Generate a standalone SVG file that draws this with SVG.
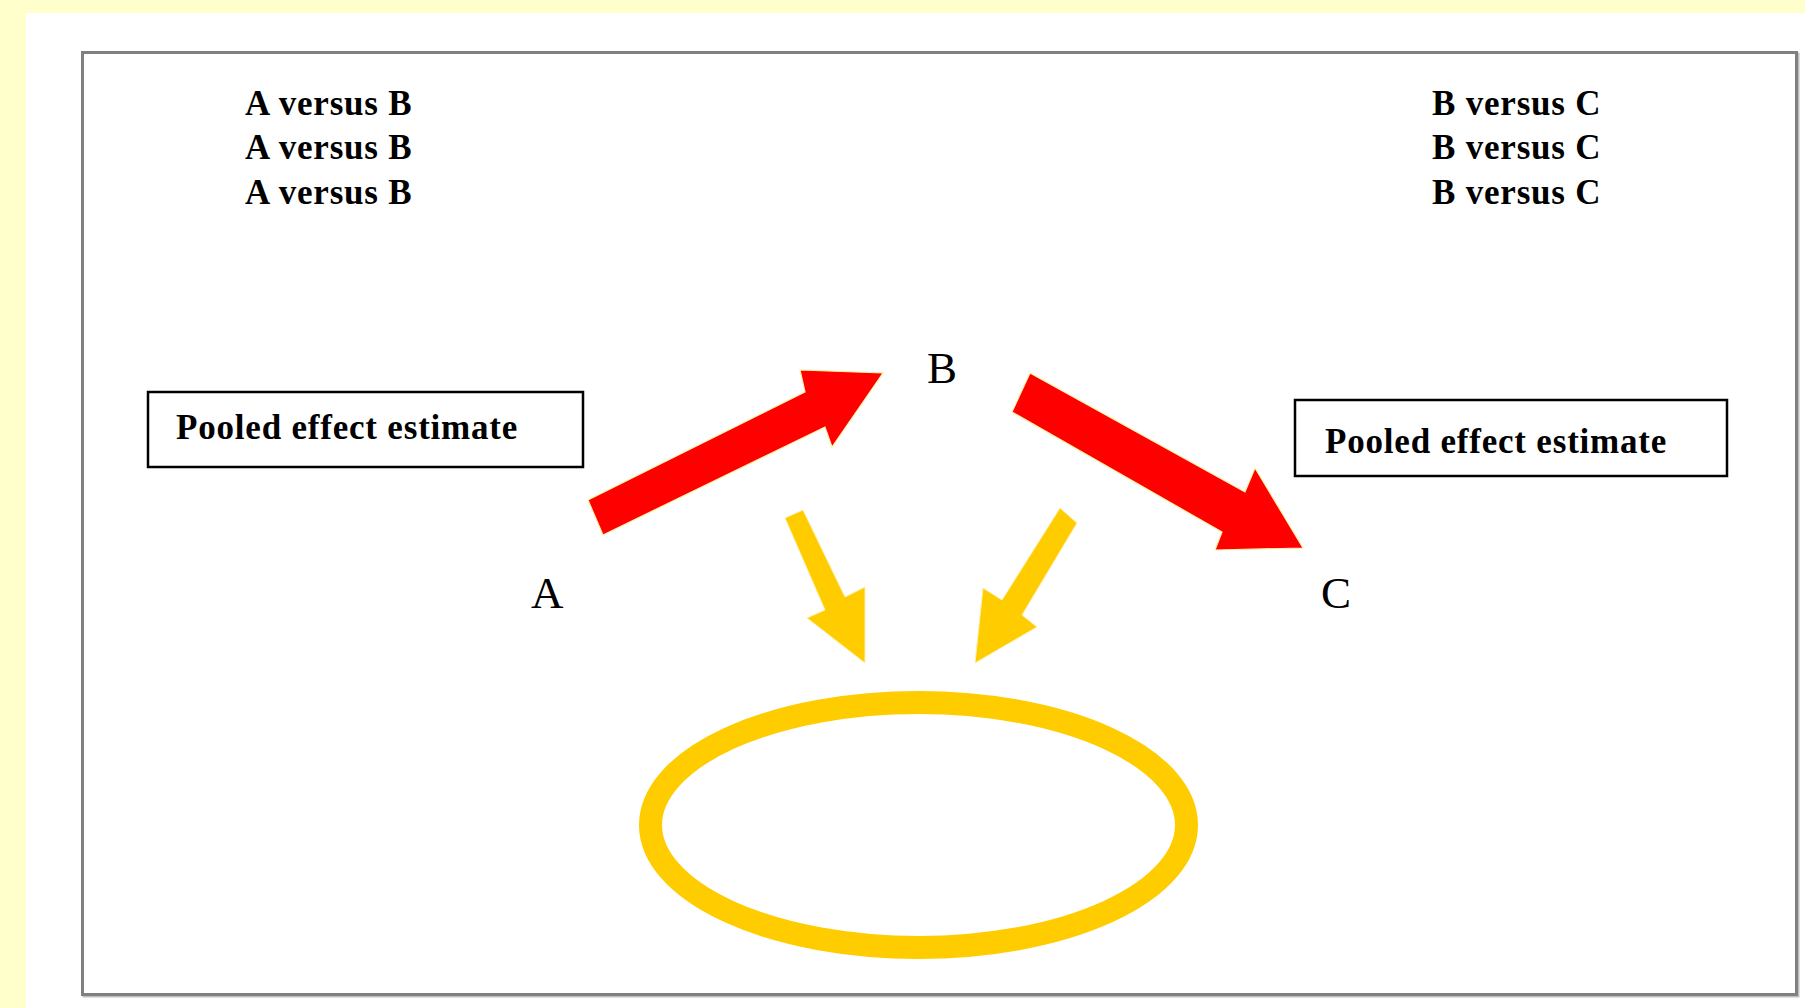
<svg xmlns="http://www.w3.org/2000/svg" width="1805" height="1008" viewBox="0 0 1805 1008">
<style>
.lbl{font-family:"Liberation Serif","Times New Roman",serif;font-weight:bold;font-size:35px;letter-spacing:0.8px;fill:#000}
.node{font-family:"Liberation Serif","Times New Roman",serif;font-size:45px;fill:#000}
.box{fill:#fff;stroke:#000;stroke-width:2.5}
.red{fill:#ff0000;stroke:#fff2a8;stroke-width:1.2;stroke-linejoin:miter}
.yel{fill:#ffcc00;stroke:#fff0b0;stroke-width:1}
</style>
<rect x="0" y="0" width="1805" height="1008" fill="#ffffcc"/>
<rect x="26" y="13" width="1779" height="995" fill="#fff"/>
<rect x="84" y="54" width="1714" height="942" fill="none" stroke="#c0c0c0" stroke-width="3"/>
<rect x="82.5" y="52.5" width="1714" height="942" fill="#fff" stroke="#808080" stroke-width="3"/>
<g id="labels-ab">
<text class="lbl" x="245" y="115">A versus B</text>
<text class="lbl" x="245" y="159">A versus B</text>
<text class="lbl" x="245" y="204">A versus B</text>
</g>
<g id="labels-bc">
<text class="lbl" x="1432" y="115">B versus C</text>
<text class="lbl" x="1432" y="159">B versus C</text>
<text class="lbl" x="1432" y="204">B versus C</text>
</g>
<g id="pooled-left">
<rect class="box" x="148" y="392" width="435" height="75"/>
<text class="lbl" x="176" y="439">Pooled effect estimate</text>
</g>
<g id="pooled-right">
<rect class="box" x="1295" y="400" width="432" height="76"/>
<text class="lbl" x="1325" y="453">Pooled effect estimate</text>
</g>
<g id="node-A"><text class="node" x="531" y="608">A</text></g>
<g id="node-B"><text class="node" x="927" y="383">B</text></g>
<g id="node-C"><text class="node" x="1321" y="608">C</text></g>
<g id="node-ellipse">
<ellipse cx="918.5" cy="825" rx="268" ry="122.5" fill="none" stroke="#ffcc00" stroke-width="23"/>
</g>
<g id="connectors">
<polygon class="red" points="588,500 805,392 800,370 883,373 832,447 825,427 603,535"/>
<polygon class="red" points="1030,373 1245,492 1255,468 1303,548 1215,550 1222,532 1012,412"/>
<polygon class="yel" points="785,518 803,510 845,597 865,587 865,663 807,618 825,610"/>
<polygon class="yel" points="1060,508 1077,523 1022,615 1037,627 975,663 983,588 1002,600"/>
</g>
</svg>
